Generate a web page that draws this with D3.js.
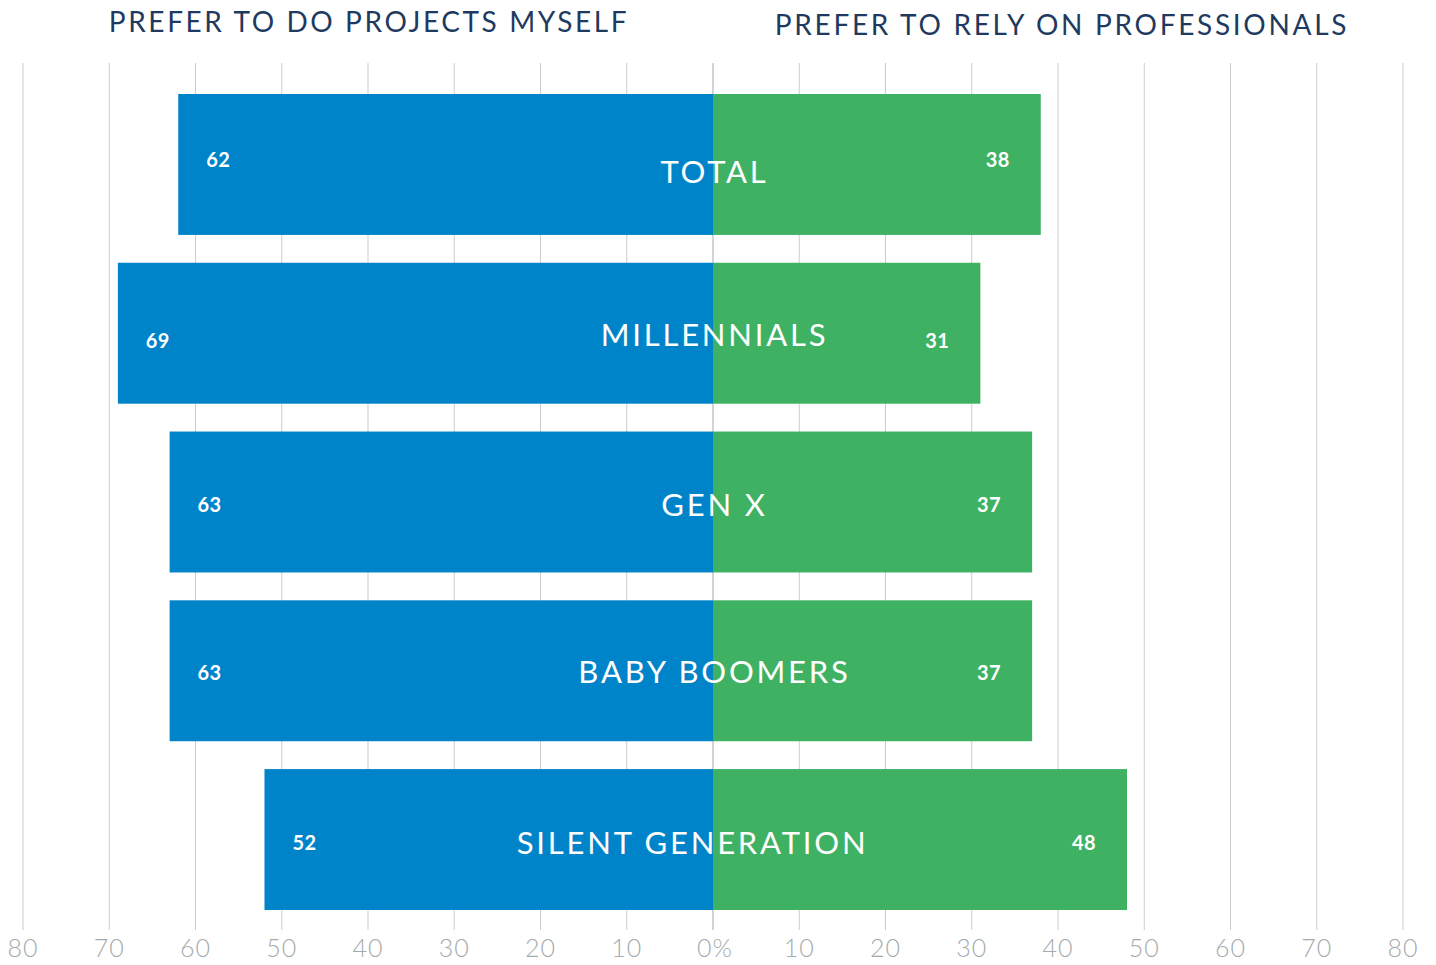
<!DOCTYPE html>
<html>
<head>
<meta charset="utf-8">
<script src="https://cdn.jsdelivr.net/npm/d3@7"></script>
<style>
  body { margin: 0; background: #fff; }
  text { font-family: Lato, "Noto Sans", sans-serif; }
</style>
</head>
<body>
<div id="chart"></div>
<script>
const categories = ["TOTAL", "MILLENNIALS", "GEN X", "BABY BOOMERS", "SILENT GENERATION"];
const diyValues = [62, 69, 63, 63, 52];
const proValues = [38, 31, 37, 37, 48];
const tickValues = [-80, -70, -60, -50, -40, -30, -20, -10, 0, 10, 20, 30, 40, 50, 60, 70, 80];
const headings = ["PREFER TO DO PROJECTS MYSELF", "PREFER TO RELY ON PROFESSIONALS"];

const width = 1436, height = 965;

const svg = d3.select("#chart")
    .append("svg")
    .attr("width", width)
    .attr("height", height);

const x = d3.scaleLinear()
    .domain([-80, 80])
    .range([23, 1403]);

const y = d3.scaleBand()
    .domain(categories)
    .range([94, 910])
    .paddingInner(0.165)
    .paddingOuter(0);

// small label nudges, per row
const catDy = [19, 13, 14, 12, 14];
const catDx = [0, 0, 0, 0, -22];
const valDy = [3, 15, 10, 9, 10];

// gridlines
svg.append("g")
    .selectAll("line")
    .data(tickValues)
    .enter()
    .append("line")
    .attr("x1", d => x(d))
    .attr("x2", d => x(d))
    .attr("y1", 63)
    .attr("y2", 930)
    .attr("stroke", d => d === 0 ? "#a9a9a9" : "#c9cccd")
    .attr("stroke-width", 1);

// tick labels
svg.append("g")
    .selectAll("text")
    .data(tickValues)
    .enter()
    .append("text")
    .attr("x", d => x(d) + (d === 0 ? 2 : 0))
    .attr("y", 957)
    .attr("text-anchor", "middle")
    .attr("fill", "#a3abae")
    .style("font-size", "25px")
    .style("font-weight", 300)
    .style("letter-spacing", "1px")
    .text(d => d === 0 ? "0%" : Math.abs(d));

const rows = categories.map((c, i) => ({ cat: c, diy: diyValues[i], pro: proValues[i], i: i }));

// left bars
svg.append("g")
    .selectAll("rect")
    .data(rows)
    .enter()
    .append("rect")
    .attr("x", d => x(-d.diy))
    .attr("y", d => y(d.cat))
    .attr("width", d => x(0) - x(-d.diy))
    .attr("height", y.bandwidth())
    .attr("fill", "#0084c9");

// right bars
svg.append("g")
    .selectAll("rect")
    .data(rows)
    .enter()
    .append("rect")
    .attr("x", x(0))
    .attr("y", d => y(d.cat))
    .attr("width", d => x(d.pro) - x(0))
    .attr("height", y.bandwidth())
    .attr("fill", "#3eb163");

// category labels
svg.append("g")
    .selectAll("text")
    .data(rows)
    .enter()
    .append("text")
    .attr("x", d => x(0) + catDx[d.i] + 1.5)
    .attr("y", d => y(d.cat) + y.bandwidth() / 2 + catDy[d.i])
    .attr("text-anchor", "middle")
    .attr("fill", "#fff")
    .style("font-size", "31px")
    .style("letter-spacing", "2.8px")
    .text(d => d.cat);

// value labels
svg.append("g")
    .selectAll("text")
    .data(rows)
    .enter()
    .append("text")
    .attr("x", d => x(-d.diy) + 40)
    .attr("y", d => y(d.cat) + y.bandwidth() / 2 + valDy[d.i])
    .attr("text-anchor", "middle")
    .attr("fill", "#fff")
    .style("font-size", "20px")
    .style("font-weight", 700)
    .style("letter-spacing", "0.5px")
    .text(d => d.diy);

svg.append("g")
    .selectAll("text")
    .data(rows)
    .enter()
    .append("text")
    .attr("x", d => x(d.pro) - 43)
    .attr("y", d => y(d.cat) + y.bandwidth() / 2 + valDy[d.i])
    .attr("text-anchor", "middle")
    .attr("fill", "#fff")
    .style("font-size", "20px")
    .style("font-weight", 700)
    .style("letter-spacing", "0.5px")
    .text(d => d.pro);

// headings
svg.append("text")
    .attr("x", 369)
    .attr("y", 32)
    .attr("text-anchor", "middle")
    .attr("fill", "#1f3a60")
    .style("font-size", "28px")
    .style("letter-spacing", "2.6px")
    .text(headings[0]);

svg.append("text")
    .attr("x", 1062)
    .attr("y", 35)
    .attr("text-anchor", "middle")
    .attr("fill", "#1f3a60")
    .style("font-size", "28px")
    .style("letter-spacing", "2.7px")
    .text(headings[1]);
</script>
</body>
</html>
